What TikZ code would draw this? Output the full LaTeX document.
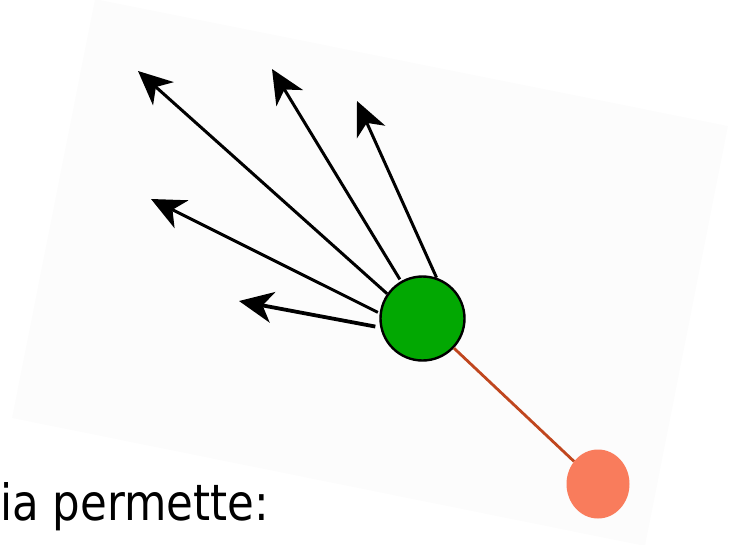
\documentclass[tikz,border=0pt]{standalone}
\usepackage{fontspec}
\newfontfamily\labelfont{DejaVu Sans}
\usetikzlibrary{arrows.meta,shapes.geometric}
\definecolor{paper}{RGB}{252,252,252}
\definecolor{nodegreen}{RGB}{2,168,2}
\definecolor{salmonfill}{RGB}{249,124,92}
\definecolor{linkred}{RGB}{192,70,30}
\begin{document}
\begin{tikzpicture}[x=1pt,y=-1pt,
  arr/.style={-{Stealth[length=34pt,width=31pt,inset=10pt]}, line width=3pt, black},
  greennode/.style={circle, draw=black, line width=2.4pt, fill=nodegreen, minimum size=84pt, inner sep=0pt},
  salmonnode/.style={ellipse, fill=salmonfill, minimum width=63pt, minimum height=69pt, inner sep=0pt},
  link/.style={draw=linkred, line width=2.8pt}]
\useasboundingbox (0,0) rectangle (739,544);
\fill[paper] (95,-1) -- (728,126) -- (645,546) -- (12,418) -- cycle;

\coordinate (t1) at (138,71);
\coordinate (t2) at (272,69);
\coordinate (t3) at (357,101);
\coordinate (t4) at (151,199);
\coordinate (t5) at (239,301);

\node[salmonnode] (s) at (598,484) {};
\node[greennode] (g) at (422.5,318.5) {};
\draw[link] (g) -- (s);

\draw[arr] (g.145) -- (t1);
\draw[arr, shorten <=2pt] (g.120) -- (t2);
\draw[arr] (g.71) -- (t3);
\draw[arr, shorten <=2pt] (g.173) -- (t4);
\draw[arr, line width=3.8pt, shorten <=5pt] (g.192) -- (t5);

\node[anchor=base west, inner sep=0pt, xscale=0.87, font=\labelfont\fontsize{50}{60}\selectfont] (lbl) at (0,520) {ia permette:};
\end{tikzpicture}
\end{document}
